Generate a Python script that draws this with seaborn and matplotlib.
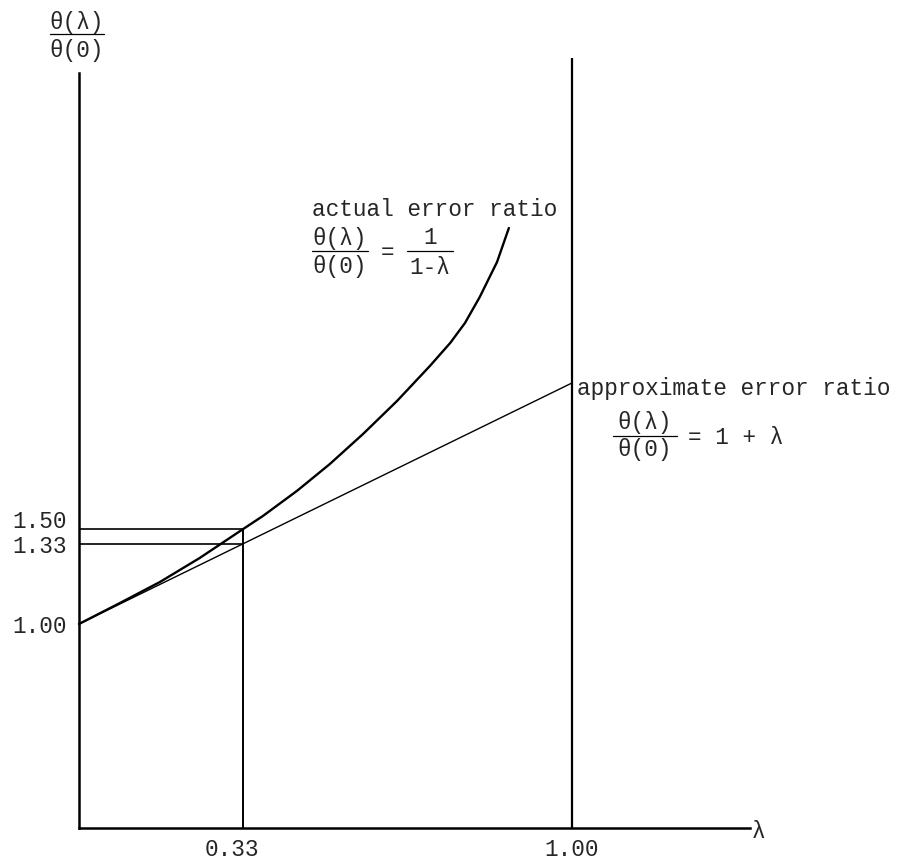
import matplotlib
matplotlib.use("Agg")
import matplotlib.pyplot as plt
import matplotlib.transforms as mtransforms
import seaborn as sns

# --- data (the drawing is only roughly to scale) ---
# actual error ratio theta(l)/theta(0) = 1/(1-l), as drawn
lam_curve = [0.0, 0.083, 0.164, 0.245, 0.333, 0.373, 0.442, 0.509, 0.576,
             0.645, 0.712, 0.753, 0.783, 0.813, 0.848, 0.872]
ratio_curve = [1.000, 1.087, 1.174, 1.274, 1.394, 1.448, 1.552, 1.664, 1.788,
               1.925, 2.071, 2.166, 2.249, 2.357, 2.502, 2.643]

# approximate error ratio 1 + l
lam_line = [0.0, 1.0]
ratio_line = [1.0, 2.0]

# marked levels: 1.50 is drawn where the curve crosses l = 0.33
y_ticks = [1.00, 1.33, 1.394]
y_tick_labels = ["1.00", "1.33", "1.50"]
x_ticks = [0.333, 1.0]
x_tick_labels = ["0.33", "1.00"]

lam_mark = 0.333
lam_one = 1.0

# frame extents of the hand drawn axes
y_axis_bottom = 0.1535
y_axis_top = 3.286
x_axis_right = 1.361
right_line_top = 3.349

sns.set_style("white")
plt.rcParams["font.family"] = ["Liberation Mono", "DejaVu Sans Mono"]

W, H = 902, 865
fig = plt.figure(figsize=(W / 100, H / 100), dpi=100)
ax = fig.add_axes([0, 0, 1, 1])
ax.set_xlim(-0.1602, 1.6694)
ax.set_ylim(0, 3.589)
ax.patch.set_alpha(0)

FS = 16.4

# --- axes as spines ---
for s in ["top", "right"]:
    ax.spines[s].set_visible(False)
ax.spines["left"].set_position(("data", 0))
ax.spines["left"].set_bounds(y_axis_bottom, y_axis_top)
ax.spines["bottom"].set_position(("data", y_axis_bottom))
ax.spines["bottom"].set_bounds(0, x_axis_right)
for s in ["left", "bottom"]:
    ax.spines[s].set_linewidth(1.8)
    ax.spines[s].set_color("black")

ax.set_yticks(y_ticks, y_tick_labels)
ax.set_xticks(x_ticks, x_tick_labels)
ax.tick_params(axis="y", length=0, pad=8.5, labelsize=FS)
ax.tick_params(axis="x", length=0, pad=7.5, labelsize=FS)

# nudge a few labels the way the typist placed them
def nudge(label, dx, dy):
    label.set_transform(label.get_transform() +
                        mtransforms.ScaledTranslation(dx / 100, dy / 100,
                                                      fig.dpi_scale_trans))

nudge(ax.get_yticklabels()[2], 0, 10)
nudge(ax.get_xticklabels()[0], -11, 0)

# --- curves ---
sns.lineplot(x=lam_curve, y=ratio_curve, color="black", lw=1.7, ax=ax,
             solid_joinstyle="round", solid_capstyle="round")
sns.lineplot(x=lam_line, y=ratio_line, color="black", lw=1.0, ax=ax)

# guide lines
ax.hlines([ratio_curve[4], y_ticks[1]], 0, lam_mark, color="black", lw=1.2)
ax.vlines(lam_mark, y_axis_bottom, ratio_curve[4], color="black", lw=1.4)
ax.vlines(lam_one, y_axis_bottom, right_line_top, color="black", lw=1.6)


# --- text, placed in pixel units from the top-left corner ---
def px(x, y):
    return x / W, 1 - y / H


def txt(x, y, s, ha="left"):
    ax.text(*px(x, y), s, transform=ax.transAxes, ha=ha, va="center",
            fontsize=FS)


def frac(xc, y_num, y_bar, y_den, x0, x1, num, den):
    txt(xc, y_num, num, ha="center")
    txt(xc, y_den, den, ha="center")
    (a, b), (c, _) = px(x0, y_bar), px(x1, y_bar)
    ax.plot([a, c], [b, b], transform=ax.transAxes, color="black", lw=0.9)


# y axis title
frac(77, 22, 34, 50, 50, 104, "θ(λ)", "θ(0)")

# actual error ratio
txt(312, 210, "actual error ratio")
frac(340, 238, 251, 267, 312, 368, "θ(λ)", "θ(0)")
txt(388, 252, "=", ha="center")
frac(430, 238, 251, 267, 407, 453, "1", "1-λ")

# approximate error ratio
txt(577, 388, "approximate error ratio")
frac(645, 423, 436, 450, 613, 677, "θ(λ)", "θ(0)")
txt(688, 437, "= 1 + λ")

# lambda at the end of the x axis
txt(752, 831, "λ")

fig.savefig("out.png", dpi=100)
